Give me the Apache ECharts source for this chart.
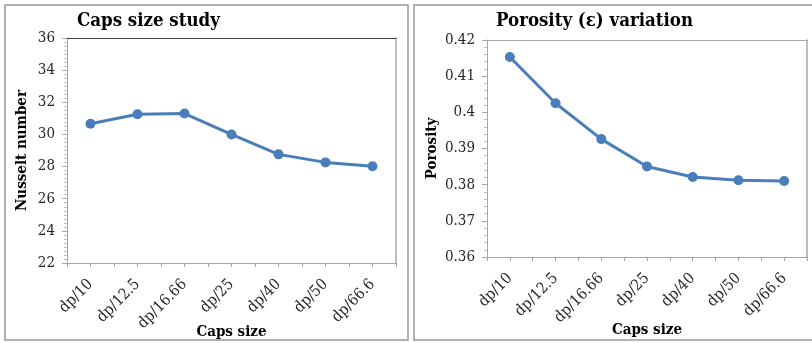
<!DOCTYPE html>
<html><head><meta charset="utf-8">
<script src="https://cdn.jsdelivr.net/npm/echarts@6/dist/echarts.min.js"></script>
<style>html,body{margin:0;padding:0;background:#fff}#c{width:812px;height:343px}</style>
</head><body><div id="c"></div>
<script>
const categories = ['dp/10','dp/12.5','dp/16.66','dp/25','dp/40','dp/50','dp/66.6'];
const nusselt = [30.67, 31.25, 31.3, 30.0, 28.76, 28.26, 28.02];
const porosity = [0.4153, 0.4025, 0.3926, 0.3850, 0.3821, 0.3812, 0.3810];
const nusseltTicks = {min: 22, max: 36, interval: 2};
const porosityTicks = {min: 0.36, max: 0.42, interval: 0.01};

const SERIF = '"DejaVu Serif Condensed", "DejaVu Serif", serif';
const BLUE = '#4a7ebb';
const chart = echarts.init(document.getElementById('c'), null, {renderer: 'canvas'});

function catAxis(gi) {
  return {
    type: 'category', gridIndex: gi, data: categories, boundaryGap: true,
    axisLine: {lineStyle: {color: '#a6a6a6', width: 1}},
    axisTick: {show: false},
    axisLabel: {rotate: 45, color: '#262626', fontFamily: SERIF, fontSize: 15.5, margin: 19},
    name: 'Caps size', nameLocation: 'middle', nameGap: gi === 0 ? 62 : 66, nameMoveOverlap: false,
    nameTextStyle: {fontFamily: SERIF, fontWeight: 'bold', fontSize: 15, color: '#000'}
  };
}
function tickAxis(gi) {
  return {
    type: 'value', gridIndex: gi, min: 0, max: 14, interval: 1, position: 'bottom',
    axisLine: {show: false, onZero: false}, axisLabel: {show: false}, splitLine: {show: false},
    axisTick: {show: true, length: 4, lineStyle: {color: '#a6a6a6'}}
  };
}
function topAxis(gi, color) {
  return {
    type: 'value', gridIndex: gi, min: 0, max: 1, position: 'top',
    axisLine: {show: true, onZero: false, lineStyle: {color: color, width: 1}},
    axisLabel: {show: false}, axisTick: {show: false}, splitLine: {show: false}
  };
}
function valAxis(gi, t, name, sub, fmt) {
  return {
    type: 'value', gridIndex: gi, min: t.min, max: t.max, interval: t.interval,
    axisLine: {show: true, onZero: false, lineStyle: {color: '#a6a6a6'}},
    axisTick: {show: true, length: 5, lineStyle: {color: '#a6a6a6'}},
    minorTick: {show: true, splitNumber: sub, length: 3, lineStyle: {color: '#bfbfbf'}},
    splitLine: {show: false},
    axisLabel: {color: '#262626', fontFamily: SERIF, fontSize: 15, margin: 12, formatter: fmt},
    name: name, nameLocation: 'middle', nameGap: gi === 0 ? 37 : 47, nameRotate: 90, nameMoveOverlap: false,
    nameTextStyle: {fontFamily: SERIF, fontWeight: 'bold', fontSize: 15, color: '#000'}
  };
}
function rightAxis(gi) {
  return {
    type: 'value', gridIndex: gi, min: 0, max: 1, position: 'right',
    axisLine: {show: true, onZero: false, lineStyle: {color: '#a6a6a6', width: 1.5}},
    axisLabel: {show: false}, axisTick: {show: false}, splitLine: {show: false}
  };
}

const option = {
  animation: false,
  backgroundColor: '#fff',
  title: [
    {text: 'Caps size study', left: 72, top: 7, textStyle: {fontFamily: SERIF, fontWeight: 'bold', fontSize: 18.5, color: '#000'}},
    {text: 'Porosity (ε) variation', left: 491, top: 7, textStyle: {fontFamily: SERIF, fontWeight: 'bold', fontSize: 18.5, color: '#000'}}
  ],
  graphic: [
    {type: 'rect', shape: {x: 5, y: 5, width: 403, height: 335}, style: {fill: 'none', stroke: '#999', lineWidth: 1.5}, silent: true},
    {type: 'rect', shape: {x: 414, y: 5, width: 410, height: 335}, style: {fill: 'none', stroke: '#999', lineWidth: 1.5}, silent: true}
  ],
  grid: [
    {left: 67, top: 38, width: 329, height: 225, containLabel: false, outerBoundsMode: 'none'},
    {left: 487, top: 40, width: 320, height: 217, containLabel: false, outerBoundsMode: 'none'}
  ],
  xAxis: [catAxis(0), catAxis(1), tickAxis(0), tickAxis(1), topAxis(0, '#404040'), topAxis(1, '#a6a6a6')],
  yAxis: [
    valAxis(0, nusseltTicks, 'Nusselt number', 8, v => String(v)),
    valAxis(1, porosityTicks, 'Porosity', 5, v => String(+v.toFixed(2))),
    rightAxis(0), rightAxis(1)
  ],
  series: [
    {type: 'line', xAxisIndex: 0, yAxisIndex: 0, data: nusselt, symbol: 'circle', symbolSize: 10,
     lineStyle: {color: BLUE, width: 3}, itemStyle: {color: BLUE}},
    {type: 'line', xAxisIndex: 1, yAxisIndex: 1, data: porosity, symbol: 'circle', symbolSize: 10,
     lineStyle: {color: BLUE, width: 3}, itemStyle: {color: BLUE}}
  ]
};
chart.setOption(option);
</script></body></html>
